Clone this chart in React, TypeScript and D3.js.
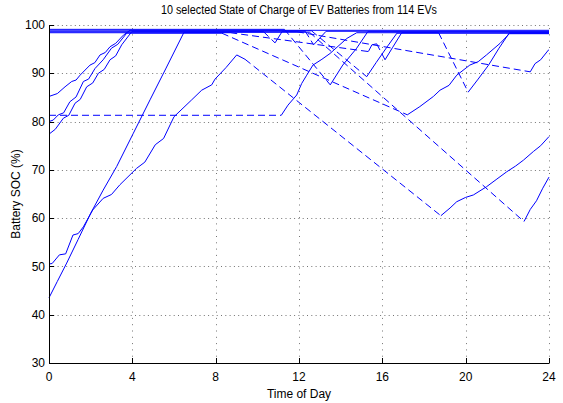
import React from "react";
import * as d3 from "d3";

// [time (h), SOC (%), style of segment ending here: 0 = solid (charging/parked), 1 = dashed (away)]
type P = [number, number, number];

const ev1: P[] = [[0,85.2,0],[0.4,85.8,0],[0.77,87.2,0],[1.09,88.3,0],[1.3,88.6,0],[1.49,89.6,0],[1.97,91.7,0],[2.2,92.2,0],[2.45,93.8,0],[2.7,94.3,0],[2.93,95.5,0],[3.2,96.2,0],[3.57,97.9,0],[3.89,98.9,0],[24,98.9,0]];
const ev2: P[] = [[0,80,0],[0.2,80.3,0],[0.45,81.4,0],[0.7,81.8,0],[1.0,84.1,0],[1.3,85.1,0],[1.65,88.3,0],[1.9,88.8,0],[2.21,91,0],[2.6,92.8,0],[3.0,95.2,0],[3.3,96,0],[3.73,98.3,0],[8.3,98.3,0],[17.2,81.4,1],[17.8,83.1,0],[18.45,85.2,0],[18.77,86.5,0],[19.2,87.5,0],[19.57,89.6,0],[20.2,91.7,0],[20.6,92.4,0],[21.0,93.8,0],[21.65,96.2,0],[22.1,98.2,0],[24,98.2,0]];
const ev3: P[] = [[0,77.4,0],[0.3,78.4,0],[0.69,80.7,0],[0.95,81.3,0],[1.25,83.8,0],[1.5,84.6,0],[1.81,87.2,0],[2.1,88,0],[2.37,90,0],[2.65,90.8,0],[2.93,92.8,0],[3.2,93.6,0],[3.49,95.9,0],[3.97,98.6,0],[11.9,98.6,0],[23.1,90.3,1],[23.33,92,0],[23.6,92.8,0],[23.97,94.8,0],[24,94.9,0]];
const ev4: P[] = [[0,81.3,0],[11.15,81.3,1],[11.47,83.4,0],[11.89,85.5,0],[12.13,87.9,0],[12.37,89.6,0],[12.67,91.7,0],[13.1,92.9,0],[13.49,94.1,0],[14.29,97.2,0],[14.77,98.4,0],[18.7,98.4,0],[20.12,86.1,1],[20.6,88.8,0],[21.1,91.7,0],[21.6,95.2,0],[22.1,98.4,0],[24,98.4,0]];
const ev5: P[] = [[0,43.5,0],[0.4,46.9,0],[0.85,50.7,0],[1.4,55.6,0],[2.0,61,0],[2.6,65.8,0],[3.25,70.7,0],[4.05,77.6,0],[4.85,84.5,0],[5.6,90.9,0],[6.48,98.5,0],[12.5,98.5,0],[22.8,59.3,1],[23.1,61.8,0],[23.4,63.6,0],[23.7,66.2,0],[24,68.5,0]];
const ev6: P[] = [[0,50.5,0],[0.15,50.6,0],[0.5,52.4,0],[0.8,52.6,0],[1.15,56.5,0],[1.4,56.8,0],[1.65,58.2,0],[2.1,61.7,0],[2.6,64.1,0],[3.0,64.9,0],[3.4,66.9,0],[4.2,70.3,0],[4.6,71.6,0],[5.1,75.2,0],[5.5,76.5,0],[6.0,81,0],[6.85,84.5,0],[7.33,86.5,0],[7.81,87.6,0],[7.97,88.8,0],[8.5,91.2,0],[9.01,93.8,0],[9.41,92.9,0],[18.81,60.5,1],[19.25,62.1,0],[19.57,63.4,0],[20.0,64.3,0],[20.37,64.8,0],[21.0,66.5,0],[21.5,68.1,0],[21.97,69.6,0],[22.4,70.8,0],[22.77,72,0],[23.25,73.8,0],[23.6,75.0,0],[24,76.9,0]];
const ev7: P[] = [[0,98.8,0],[12.6,98.8,0],[15.25,89.3,1],[15.7,92.2,0],[16.2,95.3,0],[16.7,98.3,0],[24,98.3,0]];
const ev8: P[] = [[0,99.1,0],[11.3,99.1,0],[13.5,87.6,1],[14.1,91.7,0],[14.77,95.2,0],[15.3,98.6,0],[24,98.6,0]];
const ev9: P[] = [[0,98.4,0],[8.7,98.4,0],[15.33,94.5,1],[15.5,95.9,0],[15.73,96.1,0],[16.13,92.8,1],[16.5,95.4,0],[16.93,98.4,0],[24,98.4,0]];
const ev10: P[] = [[0,98.6,0],[10.3,98.6,0],[10.85,96.3,1],[11.2,98.7,0],[12.3,98.7,0],[12.7,95.9,1],[13.0,97.3,0],[13.3,98.7,0],[24,98.7,0]];

const evs: P[][] = [ev1, ev2, ev3, ev4, ev5, ev6, ev7, ev8, ev9, ev10];

const xTicks = [0, 4, 8, 12, 16, 20, 24];
const yTicks = [30, 40, 50, 60, 70, 80, 90, 100];
const title = "10 selected State of Charge of EV Batteries from 114 EVs";
const xLabel = "Time of Day";
const yLabel = "Battery SOC (%)";

const W = 563, H = 403;
const FONT = "'Liberation Sans', Arial, sans-serif";

function segments(pts: P[]) {
  const segs: { dashed: boolean; pts: [number, number][] }[] = [];
  for (let i = 1; i < pts.length; i++) {
    const dashed = pts[i][2] === 1;
    const last = segs[segs.length - 1];
    if (last && last.dashed === dashed) {
      last.pts.push([pts[i][0], pts[i][1]]);
    } else {
      segs.push({ dashed, pts: [[pts[i - 1][0], pts[i - 1][1]], [pts[i][0], pts[i][1]]] });
    }
  }
  return segs;
}

export default function App() {
  const x = d3.scaleLinear().domain([0, 24]).range([49, 549]);
  const y = d3.scaleLinear().domain([30, 100]).range([363, 25]);
  const line = d3.line<[number, number]>().x((d) => x(d[0])).y((d) => y(d[1]));
  const [x0, x1] = x.range();
  const [yb, yt] = y.range();

  return (
    <div style={{ position: "absolute", left: 0, top: 0 }}>
      <svg width={W} height={H} style={{ display: "block", background: "#fff" }}>
        <rect x={0} y={0} width={W} height={H} fill="#fff" />
        {/* grid */}
        {yTicks.map((t) => (
          <line key={"gy" + t} x1={x0} x2={x1} y1={Math.round(y(t)) + 0.5} y2={Math.round(y(t)) + 0.5}
            stroke="#000" strokeOpacity={0.55} strokeDasharray="1,3.3" />
        ))}
        {xTicks.map((t) => (
          <line key={"gx" + t} x1={Math.round(x(t)) + 0.5} x2={Math.round(x(t)) + 0.5} y1={yb} y2={yt}
            stroke="#000" strokeOpacity={0.55} strokeDasharray="1,5.3" />
        ))}
        {/* data */}
        <g fill="none" stroke="#0000ff" strokeWidth={1}>
          {evs.map((ev, i) =>
            segments(ev).map((s, j) => (
              <path key={i + "-" + j} d={line(s.pts) || ""} strokeDasharray={s.dashed ? "7,4" : undefined} />
            ))
          )}
        </g>
        {/* axes */}
        <line x1={x0} x2={x1 + 0.5} y1={yb + 0.5} y2={yb + 0.5} stroke="#000" />
        <line x1={x0 + 0.5} x2={x0 + 0.5} y1={yt} y2={yb + 1} stroke="#000" />
        {xTicks.map((t) => (
          <line key={"tx" + t} x1={Math.round(x(t)) + 0.5} x2={Math.round(x(t)) + 0.5} y1={yb} y2={yb - 5} stroke="#000" />
        ))}
        {yTicks.map((t) => (
          <line key={"ty" + t} x1={x0} x2={x0 + 5} y1={Math.round(y(t)) + 0.5} y2={Math.round(y(t)) + 0.5} stroke="#000" />
        ))}
        {/* labels */}
        <g fontFamily={FONT} fontSize={12} fill="#000">
          {xTicks.map((t) => (
            <text key={"lx" + t} x={x(t)} y={381} textAnchor="middle">{t}</text>
          ))}
          {yTicks.map((t) => (
            <text key={"ly" + t} x={45} y={y(t)} dy="0.35em" textAnchor="end">{t}</text>
          ))}
          <text x={(x0 + x1) / 2} y={14} textAnchor="middle" textLength={276} lengthAdjust="spacingAndGlyphs">{title}</text>
          <text x={(x0 + x1) / 2} y={398} textAnchor="middle">{xLabel}</text>
          <text transform={`translate(20,${(yb + yt) / 2}) rotate(-90)`} textAnchor="middle">{yLabel}</text>
        </g>
      </svg>
    </div>
  );
}
